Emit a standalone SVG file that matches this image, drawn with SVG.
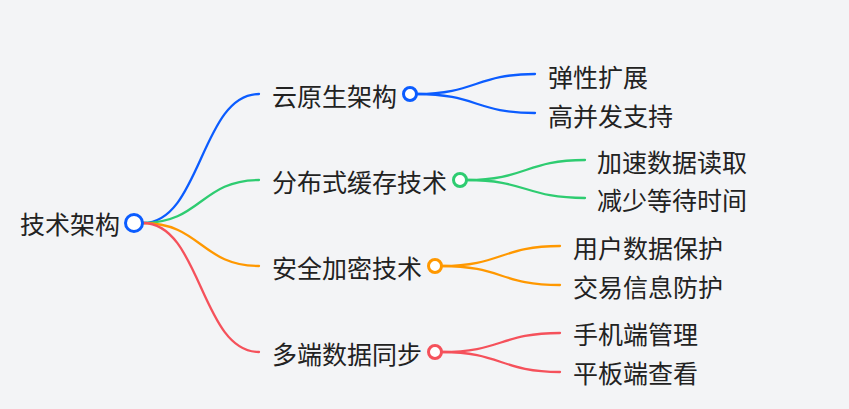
<svg xmlns="http://www.w3.org/2000/svg" width="849" height="409" viewBox="0 0 849 409">
<style>
text{font-family:"Noto Sans CJK SC","Noto Sans",sans-serif;font-size:25px;fill:#222;dominant-baseline:central}
.e{fill:none;stroke-width:2.3;stroke-linecap:round}
.n{fill:#fff;stroke-width:3}
.b{stroke:#0b5cff}.g{stroke:#2ecc71}.o{stroke:#ff9800}.r{stroke:#f5515b}
</style>
<rect width="849" height="409" fill="#f3f4f6"/>
<g id="connectors">
<path class="e b" d="M143,223 C201,223 201,94 259,94"/>
<path class="e g" d="M143,223 C201,223 201,180 259,180"/>
<path class="e o" d="M143,223 C201,223 201,266 259,266"/>
<path class="e r" d="M143,223 C201,223 201,352 259,352"/>
<path class="e b" d="M417,94 C476,94 476,74 535,74"/>
<path class="e b" d="M417,94 C476,94 476,113 535,113"/>
<path class="e g" d="M467,180 C526,180 526,160 585,160"/>
<path class="e g" d="M467,180 C526,180 526,198 585,198"/>
<path class="e o" d="M442,266 C501,266 501,246 560,246"/>
<path class="e o" d="M442,266 C501,266 501,285 560,285"/>
<path class="e r" d="M442,352 C501,352 501,333 560,333"/>
<path class="e r" d="M442,352 C501,352 501,372 560,372"/>
</g>
<g id="root"><text x="120" y="223" text-anchor="end">技术架构</text><circle class="n b" cx="134" cy="223" r="8.5"/></g>
<g id="n1"><text x="272" y="95">云原生架构</text><circle class="n b" cx="410" cy="94" r="6.5"/></g>
<g id="n2"><text x="272" y="181">分布式缓存技术</text><circle class="n g" cx="460" cy="180" r="6.5"/></g>
<g id="n3"><text x="272" y="267">安全加密技术</text><circle class="n o" cx="435" cy="266" r="6.5"/></g>
<g id="n4"><text x="272" y="353">多端数据同步</text><circle class="n r" cx="435" cy="352" r="6.5"/></g>
<g id="l1"><text x="548" y="76">弹性扩展</text></g>
<g id="l2"><text x="548" y="115">高并发支持</text></g>
<g id="l3"><text x="597" y="161">加速数据读取</text></g>
<g id="l4"><text x="597" y="199">减少等待时间</text></g>
<g id="l5"><text x="573" y="247">用户数据保护</text></g>
<g id="l6"><text x="573" y="286">交易信息防护</text></g>
<g id="l7"><text x="573" y="333">手机端管理</text></g>
<g id="l8"><text x="573" y="372">平板端查看</text></g>
</svg>
